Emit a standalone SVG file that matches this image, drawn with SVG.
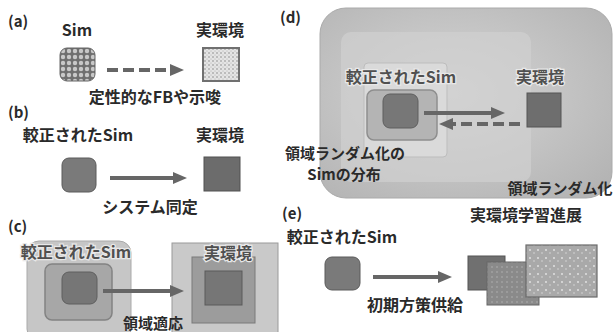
<svg xmlns="http://www.w3.org/2000/svg" width="615" height="332" viewBox="0 0 615 332">
<defs>
<style>
text{font-family:"Noto Sans CJK JP","Noto Sans",sans-serif;font-weight:bold;fill:#2a2a2a;}
.lbl{font-size:15px;}
.t16{font-size:16px;text-anchor:middle;}
.t15{font-size:15px;text-anchor:middle;}
.halo{paint-order:stroke;stroke:#e8e8e8;stroke-width:2.5px;fill:#505050;}
.arr{stroke:#666;stroke-width:4;fill:none;}
</style>
<marker id="ah" markerUnits="userSpaceOnUse" markerWidth="14" markerHeight="14" refX="2" refY="7" orient="auto">
<path d="M0,1 L14,7 L0,13 Z" fill="#666"/>
</marker>
<pattern id="circ" width="6" height="6" patternUnits="userSpaceOnUse">
<rect width="6" height="6" fill="#6f6f6f"/>
<circle cx="3" cy="3" r="2.2" fill="#c8c8c8"/>
</pattern>
<pattern id="dots" width="4" height="4" patternUnits="userSpaceOnUse">
<rect width="4" height="4" fill="#e4e4e4"/>
<circle cx="1" cy="1" r="0.8" fill="#8a8a8a"/>
<circle cx="3" cy="3" r="0.5" fill="#a0a0a0"/>
</pattern>
<pattern id="sp" width="8" height="8" patternUnits="userSpaceOnUse">
<rect width="8" height="8" fill="#a9a9a9"/>
<circle cx="2" cy="2" r="0.9" fill="#e6e6e6"/>
<circle cx="6" cy="5" r="0.8" fill="#d8d8d8"/>
</pattern>
<pattern id="sp2" width="5" height="5" patternUnits="userSpaceOnUse">
<rect width="5" height="5" fill="#8a8a8a"/>
<circle cx="2" cy="2" r="0.8" fill="#b0b0b0"/>
</pattern>
<radialGradient id="dg" cx="0.45" cy="0.45" r="0.7">
<stop offset="0" stop-color="#d6d6d6"/>
<stop offset="1" stop-color="#b4b4b4"/>
</radialGradient>
</defs>

<!-- (a) -->
<g id="panel-a">
<text class="lbl" x="8" y="27">(a)</text>
<g id="a-sim"><text class="t16" x="77" y="36">Sim</text>
<rect x="60" y="48" width="35" height="33" rx="7" fill="url(#circ)" stroke="#666" stroke-width="1"/></g>
<g id="a-real"><text class="t16" x="220" y="36">実環境</text>
<rect x="203" y="48" width="36" height="33" fill="url(#dots)" stroke="#707070" stroke-width="2"/></g>
<text class="t16" x="155" y="103">定性的なFBや示唆</text>
</g>

<!-- (b) -->
<g id="panel-b">
<text class="lbl" x="8" y="118">(b)</text>
<g id="b-sim"><text class="t16" x="78" y="141">較正されたSim</text>
<rect x="62" y="158" width="34" height="34" rx="7" fill="#7a7a7a" stroke="#5a5a5a" stroke-width="1"/></g>
<g id="b-real"><text class="t16" x="220" y="141">実環境</text>
<rect x="204" y="157" width="36" height="34" fill="#6c6c6c" stroke="#505050" stroke-width="1"/></g>
<text class="t16" x="150" y="213">システム同定</text>
</g>

<!-- (c) -->
<g id="panel-c">
<text class="lbl" x="8" y="232">(c)</text>
<g id="c-sim">
<rect x="27" y="241" width="104" height="100" rx="12" fill="#c6c6c6" stroke="#aaa" stroke-width="1"/>
<rect x="45" y="264" width="67" height="56" rx="7" fill="#a7a7a7" stroke="#838383" stroke-width="1.5"/>
<rect x="62" y="272" width="35" height="32" rx="7" fill="#767676" stroke="#5e5e5e" stroke-width="1"/>
<text class="t16 halo" x="76" y="258">較正されたSim</text>
</g>
<g id="c-real">
<rect x="172" y="243" width="106" height="95" fill="#c9c9c9" stroke="#9a9a9a" stroke-width="1"/>
<rect x="192" y="257" width="63" height="66" fill="#9c9c9c" stroke="#7a7a7a" stroke-width="1"/>
<rect x="205" y="271" width="37" height="34" fill="#767676" stroke="#5a5a5a" stroke-width="1"/>
<text class="t16 halo" x="228" y="259">実環境</text>
</g>
<text class="t15" x="153" y="329">領域適応</text>
</g>

<!-- (d) -->
<g id="panel-d">
<text class="lbl" x="280" y="23">(d)</text>
<g id="d-dr">
<rect x="320" y="8" width="292" height="190" rx="26" fill="url(#dg)" stroke="#aaa" stroke-width="1"/>
<rect x="341" y="32" width="190" height="150" rx="10" fill="#d0d0d0" opacity="0.7"/>
<rect x="364" y="63" width="83" height="94" rx="4" fill="#dadada" stroke="#bdbdbd" stroke-width="1"/>
<rect x="367" y="90" width="70" height="50" rx="7" fill="#b4b4b4" stroke="#8e8e8e" stroke-width="1.5"/>
<rect x="383" y="94" width="35" height="34" rx="7" fill="#777" stroke="#5e5e5e" stroke-width="1"/>
<text class="t16 halo" x="401" y="83">較正されたSim</text>
<text class="t15" x="560" y="194">領域ランダム化</text>
</g>
<g id="d-real"><text class="t16 halo" x="540" y="83">実環境</text>
<rect x="527" y="93" width="34" height="34" fill="#6e6e6e" stroke="#555" stroke-width="1"/></g>
<text class="t15" x="345" y="159">領域ランダム化の</text>
<text class="t15" x="344" y="180">Simの分布</text>
</g>

<!-- (e) -->
<g id="panel-e">
<text class="lbl" x="282" y="219">(e)</text>
<g id="e-sim"><text class="t16" x="342" y="243">較正されたSim</text>
<rect x="325" y="257" width="35" height="33" rx="7" fill="#7a7a7a" stroke="#5a5a5a" stroke-width="1"/></g>
<g id="e-real"><text class="t16" x="526" y="221">実環境学習進展</text>
<rect x="468" y="256" width="37" height="34" fill="#707070" stroke="#555" stroke-width="1"/>
<rect x="487" y="262" width="52" height="43" fill="url(#sp2)" stroke="#666" stroke-width="1"/>
<rect x="526" y="245" width="71" height="52" fill="url(#sp)" stroke="#6a6a6a" stroke-width="1.2"/></g>
<text class="t16" x="415" y="311">初期方策供給</text>
</g>

<!-- connectors -->
<g id="connectors">
<line class="arr" x1="107" y1="70" x2="172" y2="70" stroke-dasharray="11,5" marker-end="url(#ah)"/>
<line class="arr" x1="110" y1="178" x2="175" y2="178" marker-end="url(#ah)"/>
<line class="arr" x1="103" y1="291" x2="172" y2="291" marker-end="url(#ah)"/>
<line class="arr" x1="424" y1="113" x2="493" y2="113" marker-end="url(#ah)"/>
<line class="arr" x1="520" y1="124" x2="451" y2="124" stroke-dasharray="11,5" marker-end="url(#ah)"/>
<line class="arr" x1="373" y1="277" x2="440" y2="277" marker-end="url(#ah)"/>
</g>
</svg>
